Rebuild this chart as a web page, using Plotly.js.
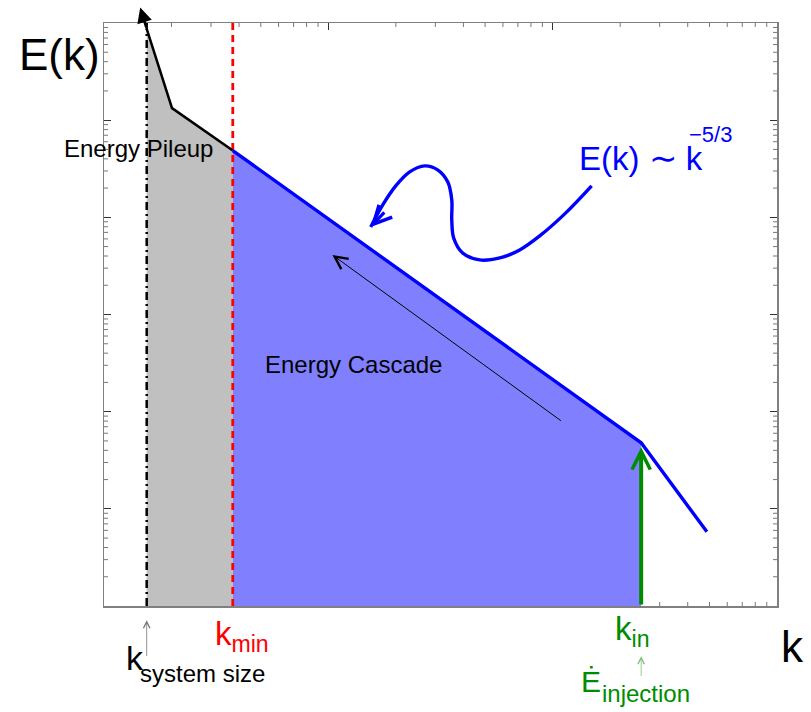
<!DOCTYPE html>
<html><head><meta charset="utf-8">
<script src="https://cdn.plot.ly/plotly-3.0.1.min.js"></script>
<style>html,body{margin:0;padding:0;background:#fff}#chart{width:811px;height:712px}</style>
</head><body><div id="chart"></div>
<script>
// ---- data (log-log axes: k from 1 to 1000, E from 1 to 1e6) ----
const kAxis = [1, 1000];
const eAxis = [1, 1e6];
const kSystem = 1.55;
const kMin = 3.75;
const kIn = 248;
const pileupK = [1.55, 2.01, 3.75];
const pileupE = [8.7e5, 1.33e5, 4.87e4];
const cascadeK = [3.75, 248, 487];
const cascadeE = [4.87e4, 47.8, 5.8];
const pileupArrowTip = [1.45, 1.44e6];      // k, E of the black arrow head
const injectionTipE = 43;
const cascadeArrowK = [110.5, 10.43];       // tail, tip
const cascadeArrowE = [78.7, 4100];
const squiggleK = [149.2, 113.2, 87.55, 71.3, 58.1, 47.3, 39.7, 36.2, 35.5, 35.5, 34.05, 30.7, 26.9, 23.05, 19.97, 17.48, 15.45];
const squiggleE = [21080, 10850, 6440, 4620, 3822, 3643, 4301, 6140, 9410, 15120, 23180, 30810, 33880, 29390, 21080, 13430, 7970];
const squiggleHeadTail = [18.02, 11650];
const kDecades = [1, 10, 100];
const eDecades = [1, 10, 100, 1e3, 1e4, 1e5];
const minorDigits = [2, 3, 4, 5, 6, 7, 8, 9];

const FONT = 'Liberation Sans, Arial, Helvetica, sans-serif';
const GREEN = 'rgb(0,140,0)';
const L = Math.log10;

const PLOT_W = 673, PLOT_H = 583, MINOR_LEN = 4;
// minor tick length expressed as a factor along each log axis
const kTickFactor = Math.pow(10, MINOR_LEN * (L(kAxis[1]) - L(kAxis[0])) / PLOT_W);
const eTickFactor = Math.pow(10, MINOR_LEN * (L(eAxis[1]) - L(eAxis[0])) / PLOT_H);

// minor ticks (2..9 of each decade) on all four sides, drawn as short segments
const tickX = [], tickY = [];
kDecades.forEach(d => minorDigits.forEach(m => {
  const v = d * m;
  tickX.push(v, v, null, v, v, null);
  tickY.push(eAxis[0], eAxis[0] * eTickFactor, null, eAxis[1], eAxis[1] / eTickFactor, null);
}));
eDecades.forEach(d => minorDigits.forEach(m => {
  const v = d * m;
  tickX.push(kAxis[0], kAxis[0] * kTickFactor, null, kAxis[1], kAxis[1] / kTickFactor, null);
  tickY.push(v, v, null, v, v, null);
}));

const traces = [
  { x: tickX, y: tickY, mode: 'lines', line: {color: '#777', width: 1}, connectgaps: false, hoverinfo: 'skip' },
  { // grey pile-up region
    x: [kSystem, pileupK[0], pileupK[1], pileupK[2], pileupK[2]],
    y: [eAxis[0], pileupE[0], pileupE[1], pileupE[2], eAxis[0]],
    fill: 'toself', fillcolor: '#c0c0c0', mode: 'lines', line: {width: 0, color: 'rgba(0,0,0,0)'}
  },
  { // blue cascade region
    x: [cascadeK[0], cascadeK[0], cascadeK[1], cascadeK[1]],
    y: [eAxis[0], cascadeE[0], cascadeE[1], eAxis[0]],
    fill: 'toself', fillcolor: '#8080ff', mode: 'lines', line: {width: 0, color: 'rgba(0,0,0,0)'}
  },
  { // system size line
    x: [kSystem, kSystem], y: eAxis, mode: 'lines',
    line: {color: '#000', width: 2.5, dash: '8px,4px,2px,4px'}
  },
  { // k_min line
    x: [kMin, kMin], y: eAxis, mode: 'lines',
    line: {color: '#ff0000', width: 2.8, dash: '7px,5px'}
  },
  { x: pileupK, y: pileupE, mode: 'lines', line: {color: '#000', width: 2.5} },
  { x: cascadeK, y: cascadeE, mode: 'lines', line: {color: '#0000ff', width: 3.4} },
  { x: squiggleK, y: squiggleE, mode: 'lines', line: {color: '#0000ff', width: 3.4, shape: 'spline', smoothing: 1} }
];

function arrowAnn(o) {
  return Object.assign({text: '', font: {size: 1}, showarrow: true, xref: 'x', yref: 'y', axref: 'x', ayref: 'y'}, o);
}
function txt(text, x, y, size, color, o) {
  return Object.assign({text: text, x: x, y: y, xref: 'paper', yref: 'paper', showarrow: false,
    xanchor: 'center', yanchor: 'middle', font: {family: FONT, size: size, color: color}}, o || {});
}

const annotations = [
  arrowAnn({x: L(pileupArrowTip[0]), y: L(pileupArrowTip[1]), ax: L(pileupK[0]), ay: L(pileupE[0]),
    arrowhead: 2, arrowsize: 1.2, arrowwidth: 2.5, arrowcolor: '#000'}),
  arrowAnn({x: L(kIn), y: L(injectionTipE), ax: L(kIn), ay: L(eAxis[0]),
    arrowhead: 5, arrowsize: 0.9, arrowwidth: 4, arrowcolor: GREEN}),
  arrowAnn({x: L(cascadeArrowK[1]), y: L(cascadeArrowE[1]), ax: L(cascadeArrowK[0]), ay: L(cascadeArrowE[0]),
    arrowhead: 5, arrowsize: 2.5, arrowwidth: 1, arrowcolor: '#000'}),
  arrowAnn({x: L(squiggleK[squiggleK.length - 1]), y: L(squiggleE[squiggleE.length - 1]),
    ax: L(squiggleHeadTail[0]), ay: L(squiggleHeadTail[1]),
    arrowhead: 5, arrowsize: 1.1, arrowwidth: 3.2, arrowcolor: '#0000ff'}),
  {text: '', font: {size: 1}, showarrow: true, xref: 'x', yref: 'paper', x: L(kSystem), y: -0.0246, ax: 0, ay: 37,
    arrowhead: 5, arrowsize: 1.6, arrowwidth: 0.8, arrowcolor: '#777'},
  {text: '', font: {size: 1}, showarrow: true, xref: 'x', yref: 'paper', x: L(kIn), y: -0.0864, ax: 0, ay: 21,
    arrowhead: 5, arrowsize: 1.6, arrowwidth: 0.8, arrowcolor: '#77c077'},
  txt('E(k)', -0.0666, 0.9458, 44, '#000'),
  txt('k', 1.0223, -0.0691, 44, '#000'),
  txt('Energy Pileup', 0.052, 0.7851, 24, '#000'),
  txt('Energy Cascade', 0.3707, 0.4141, 24, '#000'),
  txt('E(k) <span style="font-size:34px">\u223C</span> k', 0.7027, 0.7676, 33, '#0000ff', {xanchor: 'left'}),
  txt('\u22125/3', 0.8663, 0.8091, 22, '#0000ff', {xanchor: 'left'}),
  txt('k<sub>min</sub>', 0.162, -0.0513, 33, '#ff0000', {xanchor: 'left'}),
  txt('k', 0.0303, -0.0894, 34, '#000', {xanchor: 'left'}),
  txt('system size', 0.051, -0.1159, 24, '#000', {xanchor: 'left'}),
  txt('k<sub>in</sub>', 0.7563, -0.0427, 33, GREEN, {xanchor: 'left'}),
  txt('\u0116', 0.7062, -0.1295, 30, GREEN, {xanchor: 'left'}),
  txt('injection', 0.737, -0.1503, 24, GREEN, {xanchor: 'left'})
];

const mainAxis = {
  type: 'log', showgrid: false, zeroline: false, showticklabels: false,
  ticks: 'inside', ticklen: 7, tickwidth: 1, tickcolor: '#333', dtick: 1,
  showline: true, linecolor: '#808080', linewidth: 1.5, mirror: 'ticks', layer: 'below traces'
};

const layout = {
  width: 811, height: 712,
  margin: {l: 104, r: 34, t: 23, b: 106, pad: 0},
  paper_bgcolor: '#fff', plot_bgcolor: '#fff',
  showlegend: false,
  xaxis: Object.assign({}, mainAxis, {range: [L(kAxis[0]), L(kAxis[1])]}),
  yaxis: Object.assign({}, mainAxis, {range: [L(eAxis[0]), L(eAxis[1])]}),
  annotations: annotations
};

Plotly.newPlot('chart', traces, layout, {staticPlot: true});
</script></body></html>
